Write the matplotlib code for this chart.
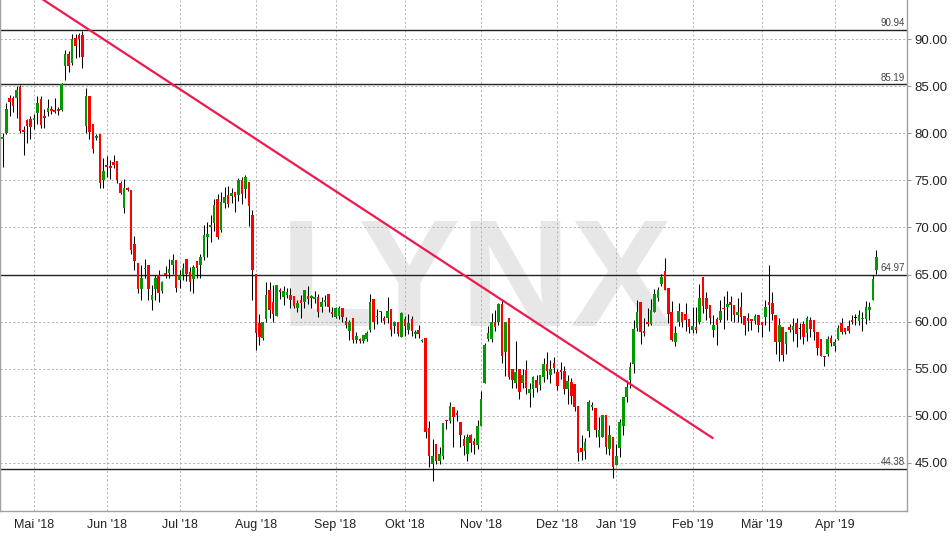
"""LYNX-Chart: Tageskerzen Apr 2018 - Apr 2019, Abwaertstrend und Marken."""
import numpy as np
import pandas as pd
import matplotlib
matplotlib.use("Agg")
import matplotlib.pyplot as plt
from matplotlib.transforms import blended_transform_factory

# Kerzen je Handelstag
opens = [
    79.4, 80.0, 83.7, 83.75, 83.7, 84.9, 80.3, 81.45, 81.5, 81.4,
    82.1, 83.6, 81.8, 82.2, 82.5, 82.5, 82.5, 82.5, 87.1, 88.4,
    87.4, 90.1, 90.4, 90.4, 80.8, 83.9, 81.0, 79.5, 79.9, 75.0,
    76.6, 76.5, 76.9, 77.0, 74.7, 72.1, 74.2, 74.0, 68.2, 66.2,
    63.5, 65.55, 66.0, 62.3, 63.5, 65.0, 63.3, 65.15, 65.15, 66.0,
    66.55, 64.4, 65.0, 66.7, 65.3, 64.5, 66.45, 66.0, 66.9, 69.0,
    70.0, 70.5, 73.0, 69.7, 72.6, 73.4, 73.3, 73.8, 73.4, 75.0,
    74.1, 74.8, 71.35, 65.1, 59.9, 58.3, 60.25, 63.4, 62.05, 60.6,
    63.4, 62.65, 62.85, 62.85, 62.7, 61.4, 62.25, 62.1, 62.7, 62.5,
    62.45, 62.65, 61.6, 62.05, 62.9, 61.05, 60.45, 60.6, 61.4, 60.1,
    59.05, 60.4, 58.0, 58.2, 57.9, 58.2, 59.1, 62.35, 60.45, 61.0,
    60.35, 60.35, 61.3, 59.5, 60.0, 58.4, 60.3, 59.1, 60.3, 58.7,
    59.1, 57.9, 58.3, 48.75, 44.9, 47.0, 45.2, 45.7, 49.6, 49.45,
    50.95, 50.3, 49.35, 47.5, 45.9, 47.95, 47.35, 46.95, 48.9, 53.5,
    58.2, 58.2, 60.0, 60.0, 61.9, 56.8, 60.35, 55.0, 53.5, 55.0,
    53.5, 54.9, 52.4, 52.9, 53.85, 53.25, 54.15, 55.5, 54.3, 55.6,
    54.65, 54.9, 54.8, 52.85, 53.6, 53.4, 51.0, 46.55, 46.25, 48.4,
    50.9, 50.8, 47.8, 47.8, 50.05, 46.5, 47.8, 44.8, 46.6, 48.9,
    52.0, 53.8, 55.5, 59.3, 62.1, 59.0, 59.95, 59.8, 61.0, 62.55,
    64.0, 65.35, 63.6, 61.0, 57.85, 59.95, 61.0, 60.8, 60.3, 59.15,
    59.4, 60.0, 64.7, 62.5, 61.8, 59.1, 60.3, 60.2, 61.5, 61.6,
    62.05, 61.8, 60.75, 61.6, 60.65, 60.35, 60.3, 60.05, 60.75, 60.0,
    60.45, 62.05, 61.95, 60.75, 57.8, 59.45, 57.6, 59.45, 59.1, 59.9,
    59.2, 59.75, 58.75, 60.2, 60.2, 58.85, 58.15, 56.4, 56.55, 58.25,
    57.45, 58.15, 59.9, 59.3, 59.55, 60.2, 60.4, 60.05, 60.3, 60.3,
    61.25, 62.3, 65.5,
]
highs = [
    80.0, 83.2, 84.1, 84.0, 85.0, 85.1, 80.8, 81.5, 81.8, 82.0,
    83.9, 83.9, 82.6, 83.6, 82.9, 83.7, 82.8, 85.35, 88.8, 88.7,
    90.5, 90.5, 90.6, 90.8, 84.75, 84.0, 81.0, 79.9, 79.9, 77.4,
    77.55, 77.2, 77.7, 77.0, 74.9, 75.1, 74.3, 74.0, 69.1, 66.2,
    66.0, 66.7, 66.0, 63.9, 64.95, 65.5, 64.3, 65.9, 66.7, 67.2,
    66.55, 65.5, 66.2, 66.7, 65.85, 66.0, 66.45, 67.2, 70.3, 70.6,
    71.35, 73.0, 73.5, 73.8, 74.3, 74.35, 74.2, 73.8, 75.25, 75.35,
    75.6, 74.8, 71.9, 65.1, 60.8, 60.0, 64.2, 64.2, 63.9, 63.9,
    63.6, 63.8, 63.55, 63.55, 62.7, 62.3, 62.85, 63.4, 63.75, 62.8,
    63.2, 62.95, 62.6, 62.8, 62.9, 61.6, 61.6, 61.7, 61.4, 60.45,
    60.2, 60.4, 58.9, 58.3, 58.6, 59.0, 62.95, 62.35, 61.35, 61.15,
    60.55, 62.65, 61.3, 60.1, 60.0, 61.0, 60.65, 60.8, 60.65, 59.1,
    59.6, 58.2, 58.3, 49.4, 47.5, 47.0, 46.7, 49.2, 49.6, 51.5,
    50.95, 50.6, 49.35, 47.95, 48.05, 48.05, 47.6, 49.6, 52.6, 57.7,
    59.5, 60.95, 61.2, 62.0, 62.25, 60.0, 60.35, 55.0, 57.9, 55.0,
    55.0, 55.9, 53.45, 54.2, 54.3, 54.3, 56.1, 56.8, 55.9, 56.2,
    55.0, 55.7, 55.3, 54.3, 54.0, 53.4, 51.0, 48.0, 47.7, 51.7,
    51.5, 50.8, 49.9, 50.05, 50.05, 49.0, 47.8, 47.0, 49.7, 52.0,
    53.8, 55.7, 60.15, 62.25, 62.1, 60.4, 61.4, 62.35, 63.5, 63.7,
    65.1, 66.8, 63.6, 62.2, 59.5, 62.0, 61.0, 62.0, 60.3, 61.6,
    61.6, 64.0, 64.7, 63.1, 61.8, 60.7, 60.5, 62.3, 62.7, 63.2,
    62.7, 61.8, 62.5, 63.1, 60.65, 60.9, 60.3, 60.8, 60.75, 60.0,
    62.3, 66.0, 63.1, 60.75, 60.4, 59.45, 58.85, 59.7, 60.4, 60.4,
    59.9, 60.1, 60.6, 60.45, 60.2, 58.85, 58.15, 56.4, 58.5, 58.6,
    58.15, 59.6, 60.4, 59.3, 60.2, 60.7, 60.8, 61.2, 61.0, 62.2,
    62.1, 64.9, 67.6,
]
lows = [
    76.4, 79.9, 81.8, 82.3, 81.6, 80.0, 77.7, 79.0, 79.4, 80.4,
    81.0, 80.6, 80.6, 81.8, 82.0, 82.1, 81.9, 82.4, 85.6, 86.5,
    87.2, 88.0, 88.1, 86.9, 80.0, 79.4, 77.9, 79.3, 74.2, 74.2,
    75.4, 75.1, 76.3, 74.7, 73.5, 71.5, 73.9, 67.2, 65.5, 63.0,
    62.3, 64.6, 62.3, 61.2, 62.3, 62.1, 63.0, 64.6, 64.6, 65.1,
    63.1, 63.55, 64.4, 64.3, 63.2, 63.0, 64.6, 64.6, 66.55, 66.9,
    68.5, 69.6, 68.8, 69.5, 72.05, 72.2, 72.6, 71.6, 72.8, 72.5,
    73.1, 70.1, 62.3, 57.0, 57.5, 58.0, 60.0, 60.4, 60.0, 60.6,
    62.4, 61.8, 62.5, 61.5, 61.5, 61.0, 60.35, 61.4, 61.9, 61.4,
    62.0, 60.5, 61.0, 61.7, 61.0, 60.5, 60.4, 60.3, 60.0, 59.3,
    58.05, 57.7, 57.7, 57.7, 57.7, 57.9, 58.9, 59.2, 59.7, 59.95,
    59.7, 59.9, 58.5, 58.8, 58.5, 58.4, 58.5, 58.7, 58.5, 58.3,
    58.3, 57.8, 47.6, 44.6, 43.1, 44.9, 44.9, 45.4, 48.65, 49.2,
    46.7, 49.5, 46.7, 45.8, 45.2, 46.2, 46.0, 46.5, 48.9, 53.5,
    57.9, 57.8, 59.0, 59.6, 55.6, 54.2, 53.9, 53.0, 53.0, 51.75,
    53.0, 52.3, 50.9, 51.95, 52.5, 52.7, 53.6, 53.9, 53.5, 54.5,
    52.7, 53.9, 52.3, 51.3, 51.3, 50.5, 45.25, 45.3, 45.4, 47.8,
    50.6, 47.8, 46.7, 47.8, 45.9, 45.8, 43.4, 44.8, 45.6, 48.0,
    51.5, 53.0, 54.6, 59.0, 57.6, 58.5, 59.5, 59.6, 61.0, 62.2,
    63.8, 63.4, 59.9, 57.9, 57.4, 59.5, 59.4, 59.0, 58.8, 58.8,
    58.8, 59.8, 60.9, 60.2, 59.8, 58.4, 57.5, 60.0, 59.2, 60.2,
    60.1, 60.0, 60.0, 59.9, 58.6, 59.0, 59.1, 59.7, 58.9, 58.4,
    59.6, 59.0, 60.2, 56.6, 55.8, 55.8, 56.6, 58.9, 57.9, 57.3,
    58.2, 57.6, 57.9, 58.4, 58.0, 56.5, 56.3, 55.3, 56.3, 57.4,
    56.9, 58.0, 58.7, 58.7, 58.8, 59.7, 59.6, 59.6, 59.0, 59.8,
    60.2, 62.3, 65.1,
]
closes = [
    79.6, 82.6, 83.3, 82.9, 84.6, 80.2, 80.1, 80.75, 80.7, 81.6,
    83.2, 80.9, 81.6, 82.7, 82.4, 82.3, 82.4, 85.2, 88.4, 87.1,
    90.0, 89.3, 89.95, 88.1, 83.9, 80.1, 78.3, 79.7, 74.7, 75.95,
    76.4, 76.3, 76.6, 75.0, 73.7, 74.2, 74.0, 67.6, 66.4, 63.5,
    64.6, 65.65, 63.5, 62.8, 64.6, 63.0, 64.2, 65.0, 65.6, 66.55,
    63.6, 65.0, 65.7, 65.1, 64.25, 65.85, 65.7, 66.9, 69.2, 69.3,
    70.3, 72.4, 69.0, 72.7, 73.2, 72.5, 73.7, 73.2, 75.0, 73.55,
    75.3, 72.3, 65.5, 58.8, 58.4, 60.0, 62.8, 61.2, 60.8, 63.9,
    63.1, 63.25, 63.1, 62.25, 61.7, 62.0, 62.0, 63.4, 62.4, 62.7,
    62.65, 61.05, 62.05, 62.3, 61.6, 60.8, 61.45, 61.4, 60.45, 59.6,
    59.95, 58.0, 58.5, 57.9, 58.6, 58.75, 62.1, 59.95, 60.6, 61.15,
    60.05, 61.15, 59.1, 59.95, 58.7, 60.9, 59.55, 59.9, 59.05, 58.9,
    58.7, 58.1, 48.3, 45.75, 45.75, 45.2, 45.9, 49.2, 49.4, 51.0,
    49.9, 50.05, 47.95, 46.8, 47.8, 47.15, 46.9, 48.9, 51.8, 57.5,
    58.75, 60.0, 59.4, 61.9, 56.3, 60.0, 54.15, 53.85, 54.7, 52.55,
    54.35, 53.0, 52.8, 54.1, 53.0, 54.3, 55.5, 54.75, 55.0, 55.1,
    53.2, 54.65, 52.85, 53.7, 52.15, 50.9, 46.1, 46.2, 47.2, 51.45,
    51.15, 48.45, 48.45, 50.05, 46.65, 48.0, 44.55, 45.7, 49.3, 52.0,
    53.05, 55.2, 59.25, 61.0, 58.9, 58.8, 59.8, 61.2, 62.9, 63.4,
    64.75, 63.4, 60.8, 58.1, 58.8, 61.15, 59.95, 60.15, 59.45, 59.5,
    59.15, 62.55, 61.7, 61.35, 60.4, 59.6, 59.6, 61.1, 61.3, 61.85,
    61.8, 60.75, 61.0, 60.45, 59.6, 60.1, 60.05, 60.55, 59.6, 59.6,
    61.55, 61.8, 60.8, 57.8, 59.6, 56.45, 58.85, 59.1, 59.55, 58.7,
    59.2, 58.35, 60.4, 59.2, 58.85, 57.2, 56.3, 56.2, 58.15, 57.7,
    57.8, 59.3, 58.85, 58.85, 59.05, 60.0, 60.4, 60.75, 60.4, 61.55,
    61.55, 64.55, 66.85,
]

# Handelskalender (Xetra-aehnlich)
START = "2018-04-18"
HOLIDAYS = ["2018-05-01", "2018-05-21", "2018-10-03", "2018-12-24",
            "2018-12-25", "2018-12-26", "2018-12-31", "2019-01-01"]
MONTHS_DE = ["Jan", "Feb", "Mär", "Apr", "Mai", "Jun",
             "Jul", "Aug", "Sep", "Okt", "Nov", "Dez"]

# Horizontale Marken und Trendlinie (Kerzenindex, Kurs)
levels = [90.94, 85.19, 64.97, 44.38]
trend_idx = [10, 205]
trend_price = [94.57, 47.60]

Y_TICKS = [45, 50, 55, 60, 65, 70, 75, 80, 85, 90]

GREEN = "#009a00"
RED = "#ff0000"
FONT = ["Liberation Sans", "DejaVu Sans"]


def trading_days(n):
    return pd.bdate_range(START, periods=n, freq="C", holidays=HOLIDAYS)


def month_ticks(dates):
    pos, lab = [], []
    for i in range(1, len(dates)):
        if dates[i].month != dates[i - 1].month:
            pos.append(i)
            lab.append(f"{MONTHS_DE[dates[i].month - 1]} '{dates[i].year % 100:02d}")
    return pos, lab


def draw_candles(ax, o, h, l, c):
    o, h, l, c = map(np.asarray, (o, h, l, c))
    x = np.arange(len(o))
    colors = np.where(c > o, GREEN, np.where(c < o, RED, "#000000"))
    ax.vlines(x, l, h, color="black", linewidth=0.75, zorder=3)
    bottom = np.minimum(o, c)
    height = np.maximum(np.abs(c - o), 0.12)
    ax.bar(x, height, bottom=bottom, width=0.74, color=colors,
           linewidth=0, zorder=4)


def run():
    plt.rcParams["font.family"] = FONT
    dates = trading_days(len(opens))
    tick_pos, tick_lab = month_ticks(dates)

    fig = plt.figure(figsize=(9.53, 5.40), dpi=100)
    ax = fig.add_axes([0.0005, 29 / 540, 907 / 953, 511 / 540])

    # Wasserzeichen
    ax.text(0.525, 0.362, "LYNX", transform=ax.transAxes, ha="center",
            va="baseline", fontsize=110, fontweight="bold", color="#e7e7e7",
            zorder=0.2)

    ax.set_axisbelow(True)
    ax.grid(True, color="#b5b5b5", linestyle=(0, (2.2, 2.2)), linewidth=0.7)

    trans = blended_transform_factory(ax.transAxes, ax.transData)
    for lv in levels:
        ax.axhline(lv, color="#222222", linewidth=1.0, zorder=2)
        ax.text(0.997, lv + 0.18, f"{lv:.2f}", transform=trans, ha="right",
                va="bottom", fontsize=7, color="#444444", zorder=5)

    draw_candles(ax, opens, highs, lows, closes)

    ax.plot(trend_idx, trend_price, color="#f0194b", linewidth=1.6,
            solid_capstyle="butt", zorder=6)

    ax.set_xlim(-0.66, 261.0)
    ax.set_ylim(39.90, 94.14)

    ax.set_xticks(tick_pos)
    ax.set_xticklabels(tick_lab, fontsize=9, color="#222222")
    ax.tick_params(axis="x", length=0, pad=6)

    ax.yaxis.tick_right()
    ax.set_yticks(Y_TICKS)
    ax.set_yticklabels([f"{v:.2f}" for v in Y_TICKS], fontsize=9.5,
                       color="#222222")
    ax.tick_params(axis="y", length=3, width=0.8, color="#999999", pad=2)

    for side in ("left", "right", "bottom"):
        ax.spines[side].set_color("#a0a0a0")
        ax.spines[side].set_linewidth(1.0)
    ax.spines["top"].set_visible(False)

    fig.savefig("out.png", dpi=100)
    plt.close(fig)


if __name__ == "__main__":
    run()
